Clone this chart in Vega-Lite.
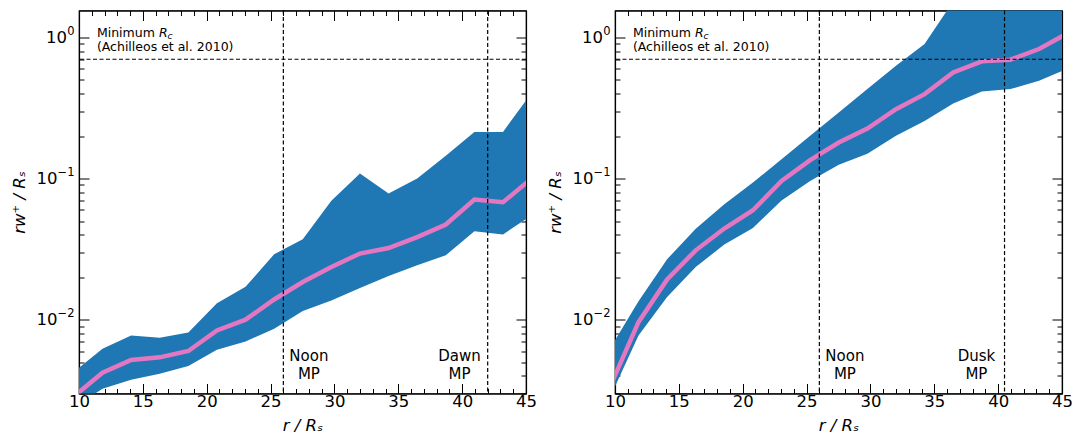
{
  "$schema": "https://vega.github.io/schema/vega-lite/v6.json",
  "autosize": {"type": "pad"},
  "padding": {"left": 10, "top": 8.5, "right": 5, "bottom": 5},
  "background": "white",
  "spacing": 89,
  "bounds": "flush",
  "config": {
    "font": "DejaVu Sans",
    "view": {"stroke": "black", "strokeWidth": 1.2},
    "axis": {
      "grid": false,
      "domainColor": "black",
      "domainWidth": 1.2,
      "tickColor": "black",
      "tickWidth": 1,
      "labelColor": "black",
      "titleColor": "black",
      "labelFont": "DejaVu Sans",
      "titleFont": "DejaVu Sans",
      "labelFontSize": 16.5,
      "titleFontSize": 16.5,
      "titleFontWeight": "normal",
      "labelOverlap": false,
      "labelFlush": false
    },
    "text": {"font": "DejaVu Sans", "color": "black"}
  },
  "datasets": {
    "left": [
      {"r": 9.6, "lo": 0.0024, "med": 0.00286, "hi": 0.00426},
      {"r": 11.84, "lo": 0.00324, "med": 0.00421, "hi": 0.00623},
      {"r": 14.08, "lo": 0.00375, "med": 0.00518, "hi": 0.00774},
      {"r": 16.32, "lo": 0.00414, "med": 0.00541, "hi": 0.00745},
      {"r": 18.56, "lo": 0.00469, "med": 0.006, "hi": 0.0081},
      {"r": 20.8, "lo": 0.00612, "med": 0.0084, "hi": 0.0131},
      {"r": 23.04, "lo": 0.00701, "med": 0.01, "hi": 0.0171},
      {"r": 25.28, "lo": 0.00863, "med": 0.0139, "hi": 0.0291},
      {"r": 27.52, "lo": 0.0115, "med": 0.0185, "hi": 0.0371},
      {"r": 29.76, "lo": 0.0137, "med": 0.0236, "hi": 0.0695},
      {"r": 32.0, "lo": 0.0168, "med": 0.0294, "hi": 0.1085},
      {"r": 34.24, "lo": 0.0204, "med": 0.0322, "hi": 0.0783},
      {"r": 36.48, "lo": 0.0243, "med": 0.0385, "hi": 0.1},
      {"r": 38.72, "lo": 0.0286, "med": 0.0472, "hi": 0.145},
      {"r": 40.96, "lo": 0.0423, "med": 0.071, "hi": 0.214},
      {"r": 43.2, "lo": 0.0402, "med": 0.068, "hi": 0.214},
      {"r": 45.44, "lo": 0.055, "med": 0.1, "hi": 0.405}
    ],
    "right": [
      {"r": 9.6, "lo": 0.00281, "med": 0.00333, "hi": 0.00622},
      {"r": 11.84, "lo": 0.00774, "med": 0.0096, "hi": 0.01349},
      {"r": 14.08, "lo": 0.0145, "med": 0.0193, "hi": 0.0268},
      {"r": 16.32, "lo": 0.0236, "med": 0.031, "hi": 0.0441},
      {"r": 18.56, "lo": 0.0341, "med": 0.0442, "hi": 0.0658},
      {"r": 20.8, "lo": 0.0447, "med": 0.0596, "hi": 0.0937},
      {"r": 23.04, "lo": 0.07, "med": 0.096, "hi": 0.137},
      {"r": 25.28, "lo": 0.096, "med": 0.135, "hi": 0.201},
      {"r": 27.52, "lo": 0.125, "med": 0.18, "hi": 0.294},
      {"r": 29.76, "lo": 0.15, "med": 0.226, "hi": 0.43},
      {"r": 32.0, "lo": 0.201, "med": 0.31, "hi": 0.63},
      {"r": 34.24, "lo": 0.256, "med": 0.396, "hi": 0.897},
      {"r": 36.48, "lo": 0.34, "med": 0.565, "hi": 1.8},
      {"r": 38.72, "lo": 0.414, "med": 0.676, "hi": 2.5},
      {"r": 40.96, "lo": 0.43, "med": 0.695, "hi": 3.0},
      {"r": 43.2, "lo": 0.493, "med": 0.827, "hi": 3.5},
      {"r": 45.44, "lo": 0.6, "med": 1.07, "hi": 4.0}
    ],
    "vlinesLeft": [{"r": 26}, {"r": 42}],
    "vlinesRight": [{"r": 26}, {"r": 40.5}],
    "hline": [{"v": 0.7}],
    "mpLeft": [{"r": 28.0, "v": 0.0055, "label": "Noon\nMP"}, {"r": 39.8, "v": 0.0055, "label": "Dawn\nMP"}],
    "mpRight": [{"r": 28.0, "v": 0.0055, "label": "Noon\nMP"}, {"r": 38.3, "v": 0.0055, "label": "Dusk\nMP"}],
    "minText": [{"r": 11.4, "v": 1.07, "label": "Minimum"}, {"r": 11.4, "v": 0.859, "label": "(Achilleos et al. 2010)"}],
    "minR": [{"r": 11.4, "v": 1.07, "label": "R"}],
    "minC": [{"r": 11.4, "v": 1.07, "label": "c"}]
  },
  "hconcat": [
    {
      "width": 447,
      "height": 383,
      "resolve": {"axis": {"x": "independent", "y": "independent"}},
      "layer": [
        {
          "data": {"name": "left"},
          "mark": {"type": "area", "color": "#1f77b4", "opacity": 1, "clip": true},
          "encoding": {
            "x": {"field": "r", "type": "quantitative",
              "scale": {"domain": [10, 45], "nice": false, "zero": false},
              "axis": {"orient": "bottom", "values": [10,11,12,13,14,15,16,17,18,19,20,21,22,23,24,25,26,27,28,29,30,31,32,33,34,35,36,37,38,39,40,41,42,43,44,45],
                "tickSize": {"condition": {"test": "datum.value % 5 === 0", "value": -10}, "value": -5},
                "labelExpr": "datum.value % 5 === 0 ? datum.label : ''",
                "labelPadding": 10, "title": "r / Rₛ", "titleFontStyle": "italic", "titlePadding": 2}},
            "y": {"field": "lo", "type": "quantitative",
              "scale": {"type": "log", "domain": [0.003, 1.55], "nice": false},
              "axis": {"orient": "left", "values": [0.003,0.004,0.005,0.006,0.007,0.008,0.009,0.01,0.02,0.03,0.04,0.05,0.06,0.07,0.08,0.09,0.1,0.2,0.3,0.4,0.5,0.6,0.7,0.8,0.9,1],
                "tickSize": {"condition": {"test": "datum.value == 1 || datum.value == 0.1 || datum.value == 0.01", "value": -10}, "value": -5},
                "labelExpr": "datum.value == 1 || datum.value == 0.1 || datum.value == 0.01 ? '10' : ''",
                "labelPadding": {"condition": {"test": "datum.value == 1", "value": 22.5}, "value": 32},
                "title": "rᴡ⁺ / Rₛ", "titleFontStyle": "italic", "titlePadding": 9}},
            "y2": {"field": "hi"}
          }
        },
        {
          "data": {"name": "left"},
          "mark": {"type": "line", "color": "#e377c2", "strokeWidth": 4.5, "clip": true},
          "encoding": {
            "x": {"field": "r", "type": "quantitative",
              "axis": {"orient": "top", "values": [10,11,12,13,14,15,16,17,18,19,20,21,22,23,24,25,26,27,28,29,30,31,32,33,34,35,36,37,38,39,40,41,42,43,44,45],
                "tickSize": {"condition": {"test": "datum.value % 5 === 0", "value": -10}, "value": -5},
                "labels": false, "title": null}},
            "y": {"field": "med", "type": "quantitative",
              "axis": {"orient": "right", "values": [0.003,0.004,0.005,0.006,0.007,0.008,0.009,0.01,0.02,0.03,0.04,0.05,0.06,0.07,0.08,0.09,0.1,0.2,0.3,0.4,0.5,0.6,0.7,0.8,0.9,1],
                "tickSize": {"condition": {"test": "datum.value == 1 || datum.value == 0.1 || datum.value == 0.01", "value": -10}, "value": -5},
                "labels": false, "title": null}}
          }
        },
        {
          "data": {"name": "vlinesLeft"},
          "mark": {"type": "rule", "color": "black", "strokeWidth": 1.2, "strokeDash": [4, 2.5]},
          "encoding": {"x": {"field": "r", "type": "quantitative", "axis": null}}
        },
        {
          "data": {"name": "hline"},
          "mark": {"type": "rule", "color": "black", "strokeWidth": 1.2, "strokeDash": [4, 2.5]},
          "encoding": {"y": {"field": "v", "type": "quantitative",
            "axis": {"orient": "left", "values": [0.01, 0.1, 1], "domain": false, "tickSize": -10, "tickOpacity": 0,
              "labelExpr": "datum.value == 1 ? '0' : datum.value == 0.1 ? '−1' : '−2'",
              "labelFontSize": 11.5, "labelPadding": 15, "labelOffset": -6, "title": null}}}
        },
        {
          "data": {"name": "mpLeft"},
          "mark": {"type": "text", "fontSize": 15, "align": "center", "baseline": "middle", "lineBreak": "\n", "lineHeight": 18},
          "encoding": {
            "x": {"field": "r", "type": "quantitative", "axis": null},
            "y": {"field": "v", "type": "quantitative", "axis": null},
            "text": {"field": "label"}
          }
        },
        {
          "data": {"name": "minText"},
          "mark": {"type": "text", "fontSize": 12.5, "align": "left", "baseline": "middle"},
          "encoding": {
            "x": {"field": "r", "type": "quantitative", "axis": null},
            "y": {"field": "v", "type": "quantitative", "axis": null},
            "text": {"field": "label"}
          }
        },
        {
          "data": {"name": "minR"},
          "mark": {"type": "text", "fontSize": 12.5, "fontStyle": "italic", "align": "left", "baseline": "middle", "dx": 62},
          "encoding": {
            "x": {"field": "r", "type": "quantitative", "axis": null},
            "y": {"field": "v", "type": "quantitative", "axis": null},
            "text": {"field": "label"}
          }
        },
        {
          "data": {"name": "minC"},
          "mark": {"type": "text", "fontSize": 9, "fontStyle": "italic", "align": "left", "baseline": "middle", "dx": 70.5, "dy": 3},
          "encoding": {
            "x": {"field": "r", "type": "quantitative", "axis": null},
            "y": {"field": "v", "type": "quantitative", "axis": null},
            "text": {"field": "label"}
          }
        }
      ]
    },
    {
      "width": 447,
      "height": 383,
      "resolve": {"axis": {"x": "independent", "y": "independent"}},
      "layer": [
        {
          "data": {"name": "right"},
          "mark": {"type": "area", "color": "#1f77b4", "opacity": 1, "clip": true},
          "encoding": {
            "x": {"field": "r", "type": "quantitative",
              "scale": {"domain": [10, 45], "nice": false, "zero": false},
              "axis": {"orient": "bottom", "values": [10,11,12,13,14,15,16,17,18,19,20,21,22,23,24,25,26,27,28,29,30,31,32,33,34,35,36,37,38,39,40,41,42,43,44,45],
                "tickSize": {"condition": {"test": "datum.value % 5 === 0", "value": -10}, "value": -5},
                "labelExpr": "datum.value % 5 === 0 ? datum.label : ''",
                "labelPadding": 10, "title": "r / Rₛ", "titleFontStyle": "italic", "titlePadding": 2}},
            "y": {"field": "lo", "type": "quantitative",
              "scale": {"type": "log", "domain": [0.003, 1.55], "nice": false},
              "axis": {"orient": "left", "values": [0.003,0.004,0.005,0.006,0.007,0.008,0.009,0.01,0.02,0.03,0.04,0.05,0.06,0.07,0.08,0.09,0.1,0.2,0.3,0.4,0.5,0.6,0.7,0.8,0.9,1],
                "tickSize": {"condition": {"test": "datum.value == 1 || datum.value == 0.1 || datum.value == 0.01", "value": -10}, "value": -5},
                "labelExpr": "datum.value == 1 || datum.value == 0.1 || datum.value == 0.01 ? '10' : ''",
                "labelPadding": {"condition": {"test": "datum.value == 1", "value": 22.5}, "value": 32},
                "title": "rᴡ⁺ / Rₛ", "titleFontStyle": "italic", "titlePadding": 9}},
            "y2": {"field": "hi"}
          }
        },
        {
          "data": {"name": "right"},
          "mark": {"type": "line", "color": "#e377c2", "strokeWidth": 4.5, "clip": true},
          "encoding": {
            "x": {"field": "r", "type": "quantitative",
              "axis": {"orient": "top", "values": [10,11,12,13,14,15,16,17,18,19,20,21,22,23,24,25,26,27,28,29,30,31,32,33,34,35,36,37,38,39,40,41,42,43,44,45],
                "tickSize": {"condition": {"test": "datum.value % 5 === 0", "value": -10}, "value": -5},
                "labels": false, "title": null}},
            "y": {"field": "med", "type": "quantitative",
              "axis": {"orient": "right", "values": [0.003,0.004,0.005,0.006,0.007,0.008,0.009,0.01,0.02,0.03,0.04,0.05,0.06,0.07,0.08,0.09,0.1,0.2,0.3,0.4,0.5,0.6,0.7,0.8,0.9,1],
                "tickSize": {"condition": {"test": "datum.value == 1 || datum.value == 0.1 || datum.value == 0.01", "value": -10}, "value": -5},
                "labels": false, "title": null}}
          }
        },
        {
          "data": {"name": "vlinesRight"},
          "mark": {"type": "rule", "color": "black", "strokeWidth": 1.2, "strokeDash": [4, 2.5]},
          "encoding": {"x": {"field": "r", "type": "quantitative", "axis": null}}
        },
        {
          "data": {"name": "hline"},
          "mark": {"type": "rule", "color": "black", "strokeWidth": 1.2, "strokeDash": [4, 2.5]},
          "encoding": {"y": {"field": "v", "type": "quantitative",
            "axis": {"orient": "left", "values": [0.01, 0.1, 1], "domain": false, "tickSize": -10, "tickOpacity": 0,
              "labelExpr": "datum.value == 1 ? '0' : datum.value == 0.1 ? '−1' : '−2'",
              "labelFontSize": 11.5, "labelPadding": 15, "labelOffset": -6, "title": null}}}
        },
        {
          "data": {"name": "mpRight"},
          "mark": {"type": "text", "fontSize": 15, "align": "center", "baseline": "middle", "lineBreak": "\n", "lineHeight": 18},
          "encoding": {
            "x": {"field": "r", "type": "quantitative", "axis": null},
            "y": {"field": "v", "type": "quantitative", "axis": null},
            "text": {"field": "label"}
          }
        },
        {
          "data": {"name": "minText"},
          "mark": {"type": "text", "fontSize": 12.5, "align": "left", "baseline": "middle"},
          "encoding": {
            "x": {"field": "r", "type": "quantitative", "axis": null},
            "y": {"field": "v", "type": "quantitative", "axis": null},
            "text": {"field": "label"}
          }
        },
        {
          "data": {"name": "minR"},
          "mark": {"type": "text", "fontSize": 12.5, "fontStyle": "italic", "align": "left", "baseline": "middle", "dx": 62},
          "encoding": {
            "x": {"field": "r", "type": "quantitative", "axis": null},
            "y": {"field": "v", "type": "quantitative", "axis": null},
            "text": {"field": "label"}
          }
        },
        {
          "data": {"name": "minC"},
          "mark": {"type": "text", "fontSize": 9, "fontStyle": "italic", "align": "left", "baseline": "middle", "dx": 70.5, "dy": 3},
          "encoding": {
            "x": {"field": "r", "type": "quantitative", "axis": null},
            "y": {"field": "v", "type": "quantitative", "axis": null},
            "text": {"field": "label"}
          }
        }
      ]
    }
  ]
}
